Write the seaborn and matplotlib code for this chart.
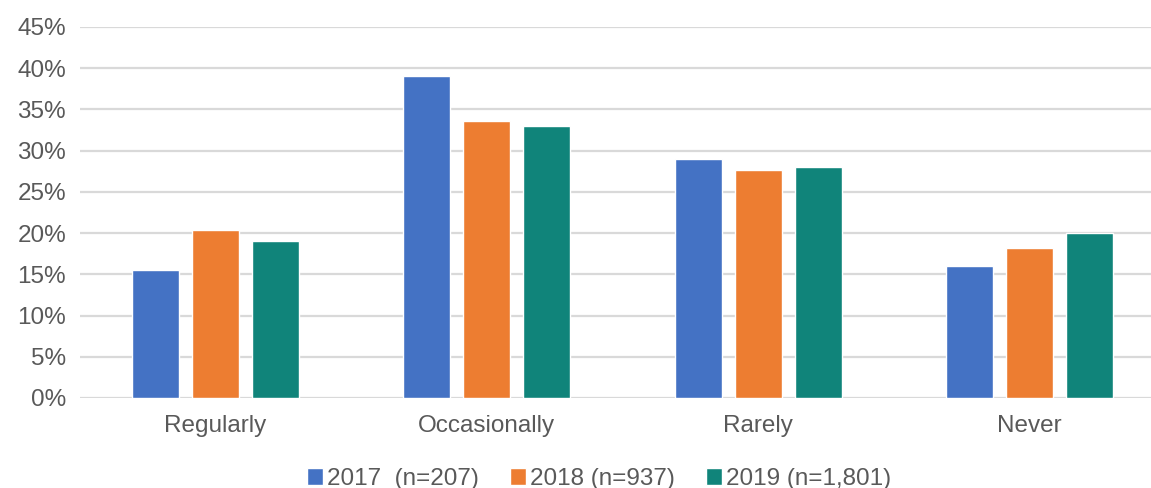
import matplotlib
matplotlib.use("Agg")
import matplotlib.pyplot as plt
import pandas as pd
import seaborn as sns

# data
categories = ["Regularly", "Occasionally", "Rarely", "Never"]
series = ["2017  (n=207)", "2018 (n=937)", "2019 (n=1,801)"]
vals_2017 = [15.5, 39.1, 29.0, 16.0]
vals_2018 = [20.4, 33.6, 27.7, 18.2]
vals_2019 = [19.0, 33.0, 28.0, 20.0]
colors = ["#4472C4", "#ED7D31", "#10847A"]

df = pd.DataFrame({
    "category": categories * 3,
    "year": [series[0]] * 4 + [series[1]] * 4 + [series[2]] * 4,
    "value": vals_2017 + vals_2018 + vals_2019,
})

sns.set_style("white")
plt.rcParams["font.family"] = ["Liberation Sans", "DejaVu Sans"]

fig = plt.figure(figsize=(11.51, 4.88), dpi=100)
ax = fig.add_axes([80 / 1151, 1 - 398 / 488, 1085 / 1151, 371 / 488])

sns.barplot(data=df, x="category", y="value", hue="year", order=categories,
            hue_order=series, palette=colors, width=0.663, gap=0.217,
            saturation=1, ax=ax, legend=True, zorder=3)

ax.set_ylim(0, 45)
ax.set_yticks(range(0, 46, 5))
ax.set_yticklabels([f"{t}%" for t in range(0, 46, 5)])
ax.set_xlim(-0.5, 3.5)
ax.set_xlabel("")
ax.set_ylabel("")
ax.yaxis.grid(True, color="#D9D9D9", linewidth=1.6, zorder=0)
ax.set_axisbelow(True)
for s in ax.spines.values():
    s.set_visible(False)
ax.tick_params(axis="both", length=0, labelsize=17.5, colors="#595959")
ax.tick_params(axis="x", pad=12)
ax.tick_params(axis="y", pad=10)

handles, labels = ax.get_legend_handles_labels()
ax.get_legend().remove()
fig.legend(handles, labels, loc="center", bbox_to_anchor=(599 / 1151, 1 - 479 / 488),
           ncol=3, frameon=False, fontsize=17.5, labelcolor="#595959",
           handlelength=0.65, handleheight=0.65, handletextpad=0.15, columnspacing=1.3)

fig.savefig("out.png", dpi=100)
